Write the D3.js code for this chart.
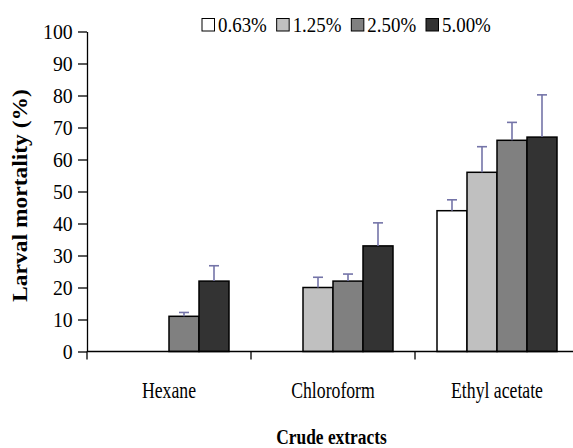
<!DOCTYPE html>
<html>
<head>
<meta charset="utf-8">
<script src="https://cdn.jsdelivr.net/npm/d3@7"></script>
<style>
  html, body { margin: 0; padding: 0; background: #fff; }
  svg { display: block; font-family: "Liberation Serif", "Times New Roman", serif; }
</style>
</head>
<body>
<svg id="chart" width="573" height="448"></svg>
<script>
// Larval mortality (%) by crude extract and concentration
const categories = ["Hexane", "Chloroform", "Ethyl acetate"];
const seriesNames = ["0.63%", "1.25%", "2.50%", "5.00%"];
const conc063 = [0, 0, 44];
const conc125 = [0, 20, 56];
const conc250 = [11, 22, 66];
const conc500 = [22, 33, 67];
// upper error (standard deviation)
const err063 = [0, 0, 3.4];
const err125 = [0, 3.2, 8];
const err250 = [1.2, 2.2, 5.6];
const err500 = [4.8, 7.2, 13.2];
const yTicks = [0, 10, 20, 30, 40, 50, 60, 70, 80, 90, 100];

const fills = ["#ffffff", "#c0c0c0", "#808080", "#333333"];
const errColor = "#7474a8";
const serif = "'Liberation Serif', 'Times New Roman', serif";

const values = [conc063, conc125, conc250, conc500];
const errors = [err063, err125, err250, err500];
const rows = [];
categories.forEach((c, i) => {
  seriesNames.forEach((s, j) => {
    rows.push({ cat: c, series: s, si: j, value: values[j][i], err: errors[j][i] });
  });
});

const svg = d3.select("#chart");
const plotLeft = 87, plotRight = 579, plotTop = 31.5, plotBottom = 351.5;

const x = d3.scaleBand().domain(categories).range([plotLeft, plotRight]).paddingInner(0).paddingOuter(0);
const inner = d3.scaleBand().domain(seriesNames).range([22, x.bandwidth() - 22]).padding(0);
const y = d3.scaleLinear().domain([0, 100]).range([plotBottom, plotTop]);

// bars
const g = svg.append("g");
g.selectAll("rect.bar").data(rows).enter().append("rect")
  .attr("class", "bar")
  .attr("x", d => x(d.cat) + inner(d.series))
  .attr("y", d => y(d.value))
  .attr("width", inner.bandwidth())
  .attr("height", d => y(0) - y(d.value))
  .attr("fill", d => fills[d.si])
  .attr("stroke", "#000")
  .attr("stroke-width", 1.5);

// error bars (upper only)
const eb = g.selectAll("g.err").data(rows.filter(d => d.err > 0)).enter().append("g")
  .attr("class", "err")
  .attr("stroke", errColor)
  .attr("stroke-width", 1.6);
eb.append("line")
  .attr("x1", d => x(d.cat) + inner(d.series) + inner.bandwidth() / 2)
  .attr("x2", d => x(d.cat) + inner(d.series) + inner.bandwidth() / 2)
  .attr("y1", d => y(d.value))
  .attr("y2", d => y(d.value + d.err));
eb.append("line")
  .attr("x1", d => x(d.cat) + inner(d.series) + inner.bandwidth() / 2 - 5)
  .attr("x2", d => x(d.cat) + inner(d.series) + inner.bandwidth() / 2 + 5)
  .attr("y1", d => y(d.value + d.err))
  .attr("y2", d => y(d.value + d.err));

// y axis
const yAxis = svg.append("g")
  .attr("transform", `translate(${plotLeft},0)`)
  .call(d3.axisLeft(y).tickValues(yTicks).tickSize(9).tickSizeOuter(0).tickFormat(d3.format("d")));
yAxis.select(".domain").attr("stroke", "#000").attr("stroke-width", 1.3);
yAxis.selectAll(".tick line").attr("stroke", "#000").attr("stroke-width", 1.3);
yAxis.selectAll(".tick text")
  .attr("font-family", serif)
  .attr("font-size", 22)
  .attr("fill", "#000")
  .attr("x", -14.3 / 0.9)
  .attr("dy", "0.33em")
  .attr("transform", "scale(0.9,1)");

// x axis baseline and category boundary ticks
const xAxis = svg.append("g").attr("transform", `translate(0,${plotBottom})`);
xAxis.append("line")
  .attr("x1", plotLeft).attr("x2", plotRight)
  .attr("y1", 0).attr("y2", 0)
  .attr("stroke", "#000").attr("stroke-width", 1.3);
const bounds = categories.map(c => x(c)).concat([x(categories[categories.length - 1]) + x.bandwidth()]);
xAxis.selectAll("line.bt").data(bounds).enter().append("line")
  .attr("class", "bt")
  .attr("x1", d => d).attr("x2", d => d)
  .attr("y1", 0).attr("y2", 8)
  .attr("stroke", "#000").attr("stroke-width", 1.3);

// category labels
svg.selectAll("g.cat").data(categories).enter().append("g")
  .attr("class", "cat")
  .attr("transform", d => `translate(${x(d) + x.bandwidth() / 2},398) scale(0.77,1)`)
  .append("text")
  .attr("text-anchor", "middle")
  .attr("font-family", serif)
  .attr("font-size", 23)
  .attr("fill", "#000")
  .text(d => d);

// axis titles
svg.append("g")
  .attr("transform", "translate(331.5,444) scale(0.79,1)")
  .append("text")
  .attr("text-anchor", "middle")
  .attr("font-family", serif)
  .attr("font-size", 22)
  .attr("font-weight", "bold")
  .text("Crude extracts");

svg.append("g")
  .attr("transform", "translate(27,195.5) rotate(-90) scale(1.12,1)")
  .append("text")
  .attr("text-anchor", "middle")
  .attr("font-family", serif)
  .attr("font-size", 21)
  .attr("font-weight", "bold")
  .text("Larval mortality (%)");

// legend
const legendX = d3.scaleLinear().domain([0, seriesNames.length - 1]).range([202, 426]);
const legend = svg.selectAll("g.leg").data(seriesNames).enter().append("g")
  .attr("class", "leg")
  .attr("transform", (d, i) => `translate(${legendX(i)},0)`);
legend.append("rect")
  .attr("x", 0).attr("y", 18.5)
  .attr("width", 12.5).attr("height", 12.5)
  .attr("fill", (d, i) => fills[i])
  .attr("stroke", "#000").attr("stroke-width", 1);
legend.append("g")
  .attr("transform", "translate(16,32) scale(0.86,1)")
  .append("text")
  .attr("font-family", serif)
  .attr("font-size", 22)
  .attr("fill", "#000")
  .text(d => d);
</script>
</body>
</html>
